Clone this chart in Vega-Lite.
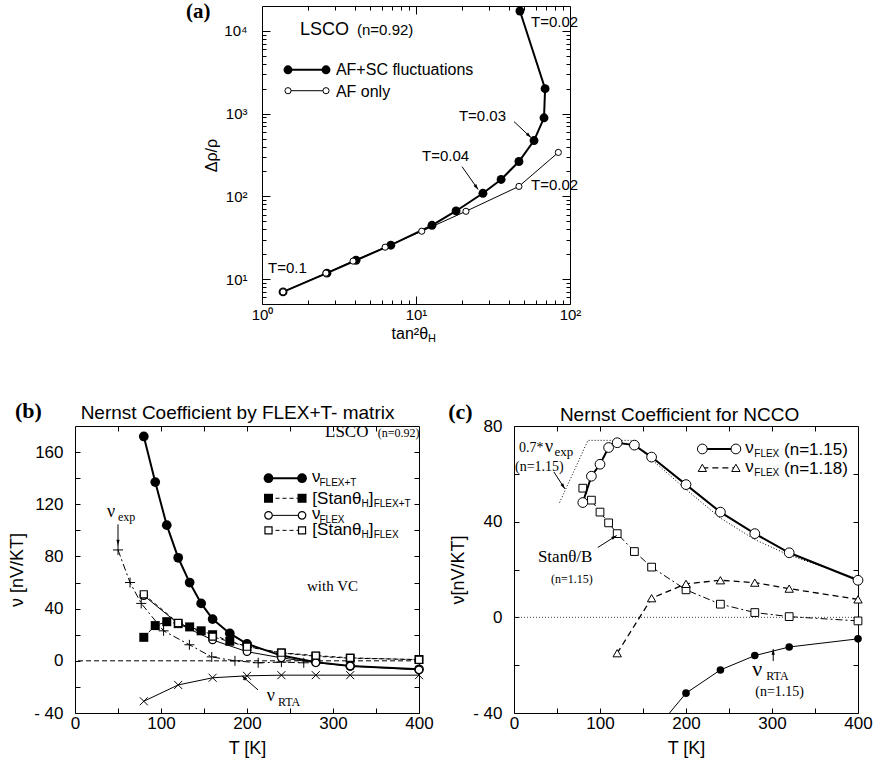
{
  "$schema": "https://vega.github.io/schema/vega-lite/v6.json",
  "background": "white",
  "padding": {"left": 8, "top": 0, "right": 0, "bottom": 0},
  "spacing": 54,
  "config": {
    "font": "Liberation Sans",
    "view": {"stroke": "black", "strokeWidth": 1},
    "axis": {"grid": false, "domain": false, "tickColor": "black", "tickWidth": 1, "labelColor": "black", "titleColor": "black", "labelFont": "Liberation Sans", "titleFont": "Liberation Sans", "labelFontSize": 17, "titleFontSize": 18, "titleFontWeight": "normal", "labelFlush": false, "labelOverlap": false}
  },
  "datasets": {
    "aAfsc": [
      {"i": 0, "tan2": 1.37, "ratio": 7.0},
      {"i": 1, "tan2": 2.64, "ratio": 11.8},
      {"i": 2, "tan2": 4.08, "ratio": 16.9},
      {"i": 3, "tan2": 6.86, "ratio": 25.7},
      {"i": 4, "tan2": 12.7, "ratio": 44.7},
      {"i": 5, "tan2": 18.2, "ratio": 66.6},
      {"i": 6, "tan2": 27.2, "ratio": 109},
      {"i": 7, "tan2": 35.7, "ratio": 160},
      {"i": 8, "tan2": 46.6, "ratio": 264},
      {"i": 9, "tan2": 58.4, "ratio": 473},
      {"i": 10, "tan2": 67.8, "ratio": 891},
      {"i": 11, "tan2": 68.9, "ratio": 2000},
      {"i": 12, "tan2": 47.3, "ratio": 17400}
    ],
    "aAf": [
      {"tan2": 1.37, "ratio": 7.0},
      {"tan2": 2.6, "ratio": 11.8},
      {"tan2": 3.9, "ratio": 16.5},
      {"tan2": 6.3, "ratio": 24.3},
      {"tan2": 10.9, "ratio": 37.9},
      {"tan2": 21.1, "ratio": 66},
      {"tan2": 46.6, "ratio": 132},
      {"tan2": 84, "ratio": 340}
    ],
    "bFlexT": [
      {"T": 80, "v": 172}, {"T": 93.3, "v": 137}, {"T": 106.7, "v": 104}, {"T": 120, "v": 79},
      {"T": 133.3, "v": 60}, {"T": 146.7, "v": 44}, {"T": 160, "v": 32}, {"T": 180, "v": 21},
      {"T": 200, "v": 13}, {"T": 240, "v": 4}, {"T": 280, "v": -1}, {"T": 320, "v": -4}, {"T": 400, "v": -6.5}
    ],
    "bStanT": [
      {"T": 80, "v": 18}, {"T": 93.3, "v": 27}, {"T": 106.7, "v": 30}, {"T": 120, "v": 28.5},
      {"T": 133.3, "v": 26}, {"T": 146.7, "v": 23}, {"T": 160, "v": 20}, {"T": 180, "v": 15},
      {"T": 200, "v": 11}, {"T": 240, "v": 6}, {"T": 280, "v": 3.5}, {"T": 320, "v": 2}, {"T": 400, "v": 1}
    ],
    "bFlex": [
      {"T": 80, "v": 50}, {"T": 120, "v": 28.5}, {"T": 160, "v": 16}, {"T": 200, "v": 7},
      {"T": 240, "v": 2.3}, {"T": 280, "v": -1.5}, {"T": 320, "v": -4}, {"T": 400, "v": -6.9}
    ],
    "bStan": [
      {"T": 80, "v": 51}, {"T": 120, "v": 29}, {"T": 160, "v": 18.5}, {"T": 200, "v": 10.8},
      {"T": 240, "v": 6.2}, {"T": 280, "v": 4}, {"T": 320, "v": 2.3}, {"T": 400, "v": 0.8}
    ],
    "bExp": [
      {"T": 50, "v": 85}, {"T": 64, "v": 60}, {"T": 77, "v": 44}, {"T": 103, "v": 23},
      {"T": 133, "v": 12.3}, {"T": 159, "v": 3}, {"T": 186, "v": 0}, {"T": 213, "v": -1.5},
      {"T": 240, "v": -1}, {"T": 266, "v": -1.5}
    ],
    "bRta": [
      {"T": 80, "v": -31}, {"T": 120, "v": -18.5}, {"T": 160, "v": -13}, {"T": 200, "v": -11.5},
      {"T": 240, "v": -11}, {"T": 280, "v": -11}, {"T": 320, "v": -11}, {"T": 400, "v": -11}
    ],
    "cFlex15": [
      {"T": 80, "v": 48}, {"T": 90, "v": 59}, {"T": 100, "v": 64}, {"T": 110, "v": 71},
      {"T": 120, "v": 73}, {"T": 140, "v": 72}, {"T": 160, "v": 67}, {"T": 200, "v": 55.5},
      {"T": 240, "v": 44}, {"T": 280, "v": 35}, {"T": 320, "v": 27}, {"T": 400, "v": 15.5}
    ],
    "cExp07": [
      {"T": 53, "v": 48}, {"T": 86, "v": 74}, {"T": 136, "v": 74}, {"T": 160, "v": 66},
      {"T": 200, "v": 53.5}, {"T": 240, "v": 41.5}, {"T": 280, "v": 32.5}, {"T": 320, "v": 26},
      {"T": 400, "v": 16}
    ],
    "cFlex18": [
      {"T": 120, "v": -15}, {"T": 160, "v": 8}, {"T": 200, "v": 14}, {"T": 240, "v": 15.5},
      {"T": 280, "v": 14.5}, {"T": 320, "v": 12}, {"T": 400, "v": 7.5}
    ],
    "cStan": [
      {"T": 80, "v": 54}, {"T": 90, "v": 49}, {"T": 100, "v": 44}, {"T": 110, "v": 39.5},
      {"T": 120, "v": 35}, {"T": 140, "v": 27.5}, {"T": 160, "v": 21}, {"T": 200, "v": 11.5},
      {"T": 240, "v": 5.5}, {"T": 280, "v": 2}, {"T": 320, "v": 0.3}, {"T": 400, "v": -1.5}
    ],
    "cRta": [
      {"T": 160, "v": -49}, {"T": 200, "v": -31.7}, {"T": 240, "v": -22}, {"T": 280, "v": -16},
      {"T": 320, "v": -12.4}, {"T": 400, "v": -9}
    ]
  },
  "vconcat": [
    {
      "spacing": 0,
      "hconcat": [
        {
          "width": 110, "height": 10,
          "view": {"stroke": null},
          "data": {"values": [{}]},
          "mark": {"type": "text", "text": ""},
          "encoding": {}
        },
        {
          "width": 308, "height": 298,
          "resolve": {"axis": {"x": "independent", "y": "independent"}},
          "layer": [
            {
              "data": {"values": [{"tan2": 1, "ratio": 10}]},
              "mark": {"type": "point", "opacity": 0},
              "encoding": {
                "x": {"field": "tan2", "type": "quantitative",
                  "scale": {"type": "log", "domain": [1, 100], "nice": false},
                  "axis": {"orient": "bottom", "values": [1,2,3,4,5,6,7,8,9,10,20,30,40,50,60,70,80,90,100],
                    "labelExpr": "datum.value === 1 ? '10⁰' : datum.value === 10 ? '10¹' : datum.value === 100 ? '10²' : ''",
                    "tickSize": {"condition": {"test": "indexof([1,10,100], datum.value) >= 0", "value": -8}, "value": -4},
                    "labelPadding": 11, "labelFontSize": 15, "title": null}},
                "y": {"field": "ratio", "type": "quantitative",
                  "scale": {"type": "log", "domain": [5, 20000], "nice": false},
                  "axis": {"orient": "left", "values": [6,7,8,9,10,20,30,40,50,60,70,80,90,100,200,300,400,500,600,700,800,900,1000,2000,3000,4000,5000,6000,7000,8000,9000,10000],
                    "labelExpr": "datum.value === 10 ? '10¹' : datum.value === 100 ? '10²' : datum.value === 1000 ? '10³' : datum.value === 10000 ? '10⁴' : ''",
                    "tickSize": {"condition": {"test": "indexof([10,100,1000,10000], datum.value) >= 0", "value": -8}, "value": -4},
                    "labelPadding": 23, "labelFontSize": 15, "title": "Δρ/ρ", "titleFontSize": 16, "titlePadding": 4}}
              }
            },
            {
              "data": {"values": [{"tan2": 1, "ratio": 10}]},
              "mark": {"type": "point", "opacity": 0},
              "encoding": {
                "x": {"field": "tan2", "type": "quantitative",
                  "scale": {"type": "log", "domain": [1, 100], "nice": false},
                  "axis": {"orient": "top", "values": [2,3,4,5,6,7,8,9,10,20,30,40,50,60,70,80,90], "labels": false,
                    "tickSize": {"condition": {"test": "datum.value === 10", "value": -8}, "value": -4},
                    "title": null}},
                "y": {"field": "ratio", "type": "quantitative",
                  "scale": {"type": "log", "domain": [5, 20000], "nice": false},
                  "axis": {"orient": "right", "values": [6,7,8,9,10,20,30,40,50,60,70,80,90,100,200,300,400,500,600,700,800,900,1000,2000,3000,4000,5000,6000,7000,8000,9000,10000], "labels": false,
                    "tickSize": {"condition": {"test": "indexof([10,100,1000,10000], datum.value) >= 0", "value": -8}, "value": -4},
                    "title": null}}
              }
            },
            {
              "encoding": {
                "x": {"field": "tan2", "type": "quantitative", "scale": {"type": "log", "domain": [1, 100], "nice": false}, "axis": null},
                "y": {"field": "ratio", "type": "quantitative", "scale": {"type": "log", "domain": [5, 20000], "nice": false}, "axis": null}
              },
              "layer": [
                {
                  "data": {"name": "aAfsc"},
                  "mark": {"type": "line", "color": "black", "strokeWidth": 2, "point": {"filled": true, "color": "black", "size": 79}},
                  "encoding": {"order": {"field": "i", "type": "quantitative"}}
                },
                {
                  "data": {"name": "aAf"},
                  "mark": {"type": "line", "color": "black", "strokeWidth": 1, "point": {"filled": true, "fill": "white", "stroke": "black", "strokeWidth": 1, "size": 38}}
                },
                {
                  "data": {"values": [{"tan2": 1.475, "ratio": 3390}, {"tan2": 2.604, "ratio": 3390}]},
                  "mark": {"type": "line", "color": "black", "strokeWidth": 2, "point": {"filled": true, "color": "black", "size": 79}}
                },
                {
                  "data": {"values": [{"tan2": 1.475, "ratio": 1893}, {"tan2": 2.604, "ratio": 1893}]},
                  "mark": {"type": "line", "color": "black", "strokeWidth": 1, "point": {"filled": true, "fill": "white", "stroke": "black", "strokeWidth": 1, "size": 38}}
                },
                {
                  "data": {"values": [
                    {"tan2": 3.02, "ratio": 2892, "label": "AF+SC fluctuations"},
                    {"tan2": 3.02, "ratio": 1603, "label": "AF only"}
                  ]},
                  "mark": {"type": "text", "align": "left", "baseline": "alphabetic", "fontSize": 16, "color": "black"},
                  "encoding": {"text": {"field": "label"}}
                },
                {
                  "data": {"values": [{"tan2": 1.765, "ratio": 8830, "label": "LSCO"}]},
                  "mark": {"type": "text", "align": "left", "baseline": "alphabetic", "fontSize": 18, "color": "black"},
                  "encoding": {"text": {"field": "label"}}
                },
                {
                  "data": {"values": [
                    {"tan2": 4.14, "ratio": 8830, "label": "(n=0.92)"},
                    {"tan2": 1.094, "ratio": 11.8, "label": "T=0.1"},
                    {"tan2": 10.94, "ratio": 264, "label": "T=0.04"},
                    {"tan2": 19.0, "ratio": 824, "label": "T=0.03"},
                    {"tan2": 55.8, "ratio": 11020, "label": "T=0.02"},
                    {"tan2": 55.8, "ratio": 118, "label": "T=0.02"}
                  ]},
                  "mark": {"type": "text", "align": "left", "baseline": "alphabetic", "fontSize": 15, "color": "black"},
                  "encoding": {"text": {"field": "label"}}
                },
                {
                  "data": {"values": [{"tan2": 0.321, "ratio": 14350, "label": "(a)"}]},
                  "mark": {"type": "text", "align": "left", "baseline": "alphabetic", "font": "Liberation Serif", "fontWeight": "bold", "fontSize": 21, "color": "black"},
                  "encoding": {"text": {"field": "label"}}
                },
                {
                  "data": {"values": [{"tan2": 11.97, "ratio": 1.89, "label": "tan²θ"}]},
                  "mark": {"type": "text", "align": "right", "baseline": "alphabetic", "fontSize": 16, "color": "black"},
                  "encoding": {"text": {"field": "label"}}
                },
                {
                  "data": {"values": [{"tan2": 11.97, "ratio": 1.74, "label": "H"}]},
                  "mark": {"type": "text", "align": "left", "baseline": "alphabetic", "fontSize": 11, "color": "black"},
                  "encoding": {"text": {"field": "label"}}
                },
                {
                  "data": {"values": [
                    {"tan2": 19.9, "ratio": 229, "tan2b": 25.3, "ratio2": 121},
                    {"tan2": 43.3, "ratio": 801, "tan2b": 55.8, "ratio2": 514}
                  ]},
                  "mark": {"type": "rule", "color": "black", "strokeWidth": 1},
                  "encoding": {"x2": {"field": "tan2b"}, "y2": {"field": "ratio2"}}
                },
                {
                  "data": {"values": [{"tan2": 25.3, "ratio": 121}]},
                  "mark": {"type": "point", "shape": "M0,0L-0.3,1L0.3,1Z", "filled": true, "color": "black", "opacity": 1, "size": 121, "angle": 145}
                },
                {
                  "data": {"values": [{"tan2": 55.8, "ratio": 514}]},
                  "mark": {"type": "point", "shape": "M0,0L-0.3,1L0.3,1Z", "filled": true, "color": "black", "opacity": 1, "size": 121, "angle": 133}
                }
              ]
            }
          ]
        }
      ]
    },
    {
      "spacing": 13,
      "hconcat": [
        {
          "width": 344, "height": 287,
          "resolve": {"axis": {"x": "independent", "y": "independent"}},
          "layer": [
            {
              "data": {"values": [{"T": 0, "v": 0}]},
              "mark": {"type": "point", "opacity": 0},
              "encoding": {
                "x": {"field": "T", "type": "quantitative", "scale": {"domain": [0, 400], "nice": false, "zero": false},
                  "axis": {"orient": "bottom", "values": [0,50,100,150,200,250,300,350,400],
                    "labelExpr": "datum.value % 100 === 0 ? datum.label : ''",
                    "tickSize": -5, "labelPadding": 7, "title": "T [K]", "titlePadding": 8}},
                "y": {"field": "v", "type": "quantitative", "scale": {"domain": [-40, 180], "nice": false, "zero": false},
                  "axis": {"orient": "left", "values": [-40,-20,0,20,40,60,80,100,120,140,160],
                    "labelExpr": "datum.value % 40 === 0 ? (datum.value < 0 ? '- ' + abs(datum.value) : datum.label) : ''",
                    "tickSize": -5, "labelPadding": 17, "title": "ν [nV/KT]", "titlePadding": 7}}
              }
            },
            {
              "data": {"values": [{"T": 0, "v": 0}]},
              "mark": {"type": "point", "opacity": 0},
              "encoding": {
                "x": {"field": "T", "type": "quantitative", "scale": {"domain": [0, 400], "nice": false, "zero": false},
                  "axis": {"orient": "top", "values": [50,100,150,200,250,300,350], "labels": false, "tickSize": -5, "title": null}},
                "y": {"field": "v", "type": "quantitative", "scale": {"domain": [-40, 180], "nice": false, "zero": false},
                  "axis": {"orient": "right", "values": [-20,0,20,40,60,80,100,120,140,160], "labels": false, "tickSize": -5, "title": null}}
              }
            },
            {
              "data": {"values": [{"zero": 0}]},
              "mark": {"type": "rule", "color": "black", "strokeWidth": 1, "strokeDash": [5, 3]},
              "encoding": {"y": {"datum": 0, "type": "quantitative", "scale": {"domain": [-40, 180], "nice": false, "zero": false}, "axis": null}}
            },
            {
              "encoding": {
                "x": {"field": "T", "type": "quantitative", "scale": {"domain": [0, 400], "nice": false, "zero": false}, "axis": null},
                "y": {"field": "v", "type": "quantitative", "scale": {"domain": [-40, 180], "nice": false, "zero": false}, "axis": null}
              },
              "layer": [
                {
                  "data": {"name": "bExp"},
                  "mark": {"type": "line", "color": "black", "strokeWidth": 1, "strokeDash": [7, 3, 2, 3], "point": {"shape": "M-1,0L1,0M0,-1L0,1", "filled": false, "color": "black", "strokeWidth": 1, "size": 100}}
                },
                {
                  "data": {"name": "bRta"},
                  "mark": {"type": "line", "color": "black", "strokeWidth": 1, "point": {"shape": "M-1,-1L1,1M-1,1L1,-1", "filled": false, "color": "black", "strokeWidth": 1, "size": 64}}
                },
                {
                  "data": {"name": "bStanT"},
                  "mark": {"type": "line", "color": "black", "strokeWidth": 1, "strokeDash": [4, 3], "point": {"shape": "square", "filled": true, "color": "black", "size": 81}}
                },
                {
                  "data": {"name": "bFlexT"},
                  "mark": {"type": "line", "color": "black", "strokeWidth": 2, "point": {"filled": true, "color": "black", "size": 95}}
                },
                {
                  "data": {"name": "bFlex"},
                  "mark": {"type": "line", "color": "black", "strokeWidth": 1, "point": {"filled": true, "fill": "white", "stroke": "black", "strokeWidth": 1.2, "size": 57}}
                },
                {
                  "data": {"name": "bStan"},
                  "mark": {"type": "line", "color": "black", "strokeWidth": 1, "strokeDash": [4, 3], "point": {"shape": "square", "filled": true, "fill": "white", "stroke": "black", "strokeWidth": 1.2, "size": 50}}
                },
                {
                  "data": {"values": [{"T": 225, "v": 140}, {"T": 264, "v": 140}]},
                  "mark": {"type": "line", "color": "black", "strokeWidth": 2, "point": {"filled": true, "color": "black", "size": 95}}
                },
                {
                  "data": {"values": [{"T": 225, "v": 124.6}, {"T": 264, "v": 124.6}]},
                  "mark": {"type": "line", "color": "black", "strokeWidth": 1, "strokeDash": [4, 3], "point": {"shape": "square", "filled": true, "color": "black", "size": 81}}
                },
                {
                  "data": {"values": [{"T": 225, "v": 111.5}, {"T": 264, "v": 111.5}]},
                  "mark": {"type": "line", "color": "black", "strokeWidth": 1, "point": {"filled": true, "fill": "white", "stroke": "black", "strokeWidth": 1.2, "size": 57}}
                },
                {
                  "data": {"values": [{"T": 225, "v": 100}, {"T": 264, "v": 100}]},
                  "mark": {"type": "line", "color": "black", "strokeWidth": 1, "strokeDash": [4, 3], "point": {"shape": "square", "filled": true, "fill": "white", "stroke": "black", "strokeWidth": 1.2, "size": 50}}
                },
                {
                  "data": {"values": [
                    {"T": 275.6, "v": 136.9, "label": "ν"},
                    {"T": 276, "v": 120, "label": "[Stanθ"},
                    {"T": 341.5, "v": 120, "label": "]"},
                    {"T": 275.6, "v": 108.5, "label": "ν"},
                    {"T": 276, "v": 96.2, "label": "[Stanθ"},
                    {"T": 341.5, "v": 96.2, "label": "]"}
                  ]},
                  "mark": {"type": "text", "align": "left", "baseline": "alphabetic", "fontSize": 17, "color": "black"},
                  "encoding": {"text": {"field": "label"}}
                },
                {
                  "data": {"values": [
                    {"T": 284.3, "v": 133.8, "label": "FLEX+T"},
                    {"T": 333.1, "v": 117.7, "label": "H"},
                    {"T": 347.3, "v": 117.7, "label": "FLEX+T"},
                    {"T": 284.3, "v": 105.4, "label": "FLEX"},
                    {"T": 333.1, "v": 93.8, "label": "H"},
                    {"T": 347.3, "v": 93.8, "label": "FLEX"}
                  ]},
                  "mark": {"type": "text", "align": "left", "baseline": "alphabetic", "fontSize": 10, "color": "black"},
                  "encoding": {"text": {"field": "label"}}
                },
                {
                  "data": {"values": [{"T": 189, "v": 185.4, "label": "Nernst Coefficient by FLEX+T- matrix"}]},
                  "mark": {"type": "text", "align": "center", "baseline": "alphabetic", "fontSize": 19, "color": "black"},
                  "encoding": {"text": {"field": "label"}}
                },
                {
                  "data": {"values": [{"T": -69.8, "v": 186.2, "label": "(b)"}]},
                  "mark": {"type": "text", "align": "left", "baseline": "alphabetic", "font": "Liberation Serif", "fontWeight": "bold", "fontSize": 22, "color": "black"},
                  "encoding": {"text": {"field": "label"}}
                },
                {
                  "data": {"values": [{"T": 290.7, "v": 171.6, "label": "LSCO"}]},
                  "mark": {"type": "text", "align": "left", "baseline": "alphabetic", "font": "Liberation Serif", "fontSize": 17, "color": "black"},
                  "encoding": {"text": {"field": "label"}}
                },
                {
                  "data": {"values": [{"T": 352, "v": 171.6, "label": "(n=0.92)"}]},
                  "mark": {"type": "text", "align": "left", "baseline": "alphabetic", "font": "Liberation Serif", "fontSize": 12, "color": "black"},
                  "encoding": {"text": {"field": "label"}}
                },
                {
                  "data": {"values": [{"T": 269.8, "v": 53.8, "label": "with VC"}]},
                  "mark": {"type": "text", "align": "left", "baseline": "alphabetic", "font": "Liberation Serif", "fontSize": 15, "color": "black"},
                  "encoding": {"text": {"field": "label"}}
                },
                {
                  "data": {"values": [
                    {"T": 37.2, "v": 110, "label": "ν"},
                    {"T": 223, "v": -30.8, "label": "ν"}
                  ]},
                  "mark": {"type": "text", "align": "left", "baseline": "alphabetic", "font": "Liberation Serif", "fontSize": 18, "color": "black"},
                  "encoding": {"text": {"field": "label"}}
                },
                {
                  "data": {"values": [
                    {"T": 50, "v": 106.9, "label": "exp"},
                    {"T": 236, "v": -34.6, "label": "RTA"}
                  ]},
                  "mark": {"type": "text", "align": "left", "baseline": "alphabetic", "font": "Liberation Serif", "fontSize": 12, "color": "black"},
                  "encoding": {"text": {"field": "label"}}
                },
                {
                  "data": {"values": [
                    {"T": 50, "v": 104.6, "T2": 50, "v2": 88.5},
                    {"T": 212.8, "v": -22.3, "T2": 194, "v2": -11.5}
                  ]},
                  "mark": {"type": "rule", "color": "black", "strokeWidth": 1},
                  "encoding": {"x2": {"field": "T2"}, "y2": {"field": "v2"}}
                },
                {
                  "data": {"values": [{"T": 50, "v": 88.5}]},
                  "mark": {"type": "point", "shape": "M0,0L-0.3,1L0.3,1Z", "filled": true, "color": "black", "opacity": 1, "size": 121, "angle": 180}
                },
                {
                  "data": {"values": [{"T": 194, "v": -11.5}]},
                  "mark": {"type": "point", "shape": "M0,0L-0.3,1L0.3,1Z", "filled": true, "color": "black", "opacity": 1, "size": 121, "angle": 311}
                }
              ]
            }
          ]
        },
        {
          "width": 344, "height": 287,
          "resolve": {"axis": {"x": "independent", "y": "independent"}},
          "layer": [
            {
              "data": {"values": [{"T": 0, "v": 0}]},
              "mark": {"type": "point", "opacity": 0},
              "encoding": {
                "x": {"field": "T", "type": "quantitative", "scale": {"domain": [0, 400], "nice": false, "zero": false},
                  "axis": {"orient": "bottom", "values": [0,50,100,150,200,250,300,350,400],
                    "labelExpr": "datum.value % 100 === 0 ? datum.label : ''",
                    "tickSize": -5, "labelPadding": 7, "title": "T [K]", "titlePadding": 8}},
                "y": {"field": "v", "type": "quantitative", "scale": {"domain": [-40, 80], "nice": false, "zero": false},
                  "axis": {"orient": "left", "values": [-40,-20,0,20,40,60,80],
                    "labelExpr": "datum.value % 40 === 0 ? (datum.value < 0 ? '- ' + abs(datum.value) : datum.label) : ''",
                    "tickSize": -5, "labelPadding": 17, "title": "ν[nV/KT]", "titlePadding": 5}}
              }
            },
            {
              "data": {"values": [{"T": 0, "v": 0}]},
              "mark": {"type": "point", "opacity": 0},
              "encoding": {
                "x": {"field": "T", "type": "quantitative", "scale": {"domain": [0, 400], "nice": false, "zero": false},
                  "axis": {"orient": "top", "values": [50,100,150,200,250,300,350], "labels": false, "tickSize": -5, "title": null}},
                "y": {"field": "v", "type": "quantitative", "scale": {"domain": [-40, 80], "nice": false, "zero": false},
                  "axis": {"orient": "right", "values": [-20,0,20,40,60], "labels": false, "tickSize": -5, "title": null}}
              }
            },
            {
              "data": {"values": [{"zero": 0}]},
              "mark": {"type": "rule", "color": "#444444", "strokeWidth": 1, "strokeDash": [1, 2]},
              "encoding": {"y": {"datum": 0, "type": "quantitative", "scale": {"domain": [-40, 80], "nice": false, "zero": false}, "axis": null}}
            },
            {
              "encoding": {
                "x": {"field": "T", "type": "quantitative", "scale": {"domain": [0, 400], "nice": false, "zero": false}, "axis": null},
                "y": {"field": "v", "type": "quantitative", "scale": {"domain": [-40, 80], "nice": false, "zero": false}, "axis": null}
              },
              "layer": [
                {
                  "data": {"name": "cExp07"},
                  "mark": {"type": "line", "color": "black", "strokeWidth": 1, "strokeDash": [1, 2]}
                },
                {
                  "data": {"name": "cRta"},
                  "mark": {"type": "line", "color": "black", "strokeWidth": 1, "clip": true}
                },
                {
                  "data": {"name": "cRta"},
                  "transform": [{"filter": "datum.T >= 200"}],
                  "mark": {"type": "point", "filled": true, "color": "black", "opacity": 1, "size": 57}
                },
                {
                  "data": {"name": "cStan"},
                  "mark": {"type": "line", "color": "black", "strokeWidth": 1, "strokeDash": [7, 3, 2, 3], "point": {"shape": "square", "filled": true, "fill": "white", "stroke": "black", "strokeWidth": 1, "size": 60}}
                },
                {
                  "data": {"name": "cFlex18"},
                  "mark": {"type": "line", "color": "black", "strokeWidth": 1.3, "strokeDash": [6, 4], "point": {"shape": "triangle-up", "filled": true, "fill": "white", "stroke": "black", "strokeWidth": 1, "size": 70}}
                },
                {
                  "data": {"name": "cFlex15"},
                  "mark": {"type": "line", "color": "black", "strokeWidth": 2, "point": {"filled": true, "fill": "white", "stroke": "black", "strokeWidth": 1, "size": 95}}
                },
                {
                  "data": {"values": [{"T": 219, "v": 70.4}, {"T": 258, "v": 70.4}]},
                  "mark": {"type": "line", "color": "black", "strokeWidth": 2, "point": {"filled": true, "fill": "white", "stroke": "black", "strokeWidth": 1, "size": 95}}
                },
                {
                  "data": {"values": [{"T": 219, "v": 62.5}, {"T": 258, "v": 62.5}]},
                  "mark": {"type": "line", "color": "black", "strokeWidth": 1.3, "strokeDash": [6, 4], "point": {"shape": "triangle-up", "filled": true, "fill": "white", "stroke": "black", "strokeWidth": 1, "size": 70}}
                },
                {
                  "data": {"values": [
                    {"T": 269, "v": 68.75, "label": "ν"},
                    {"T": 314, "v": 67.9, "label": "(n=1.15)"},
                    {"T": 269, "v": 60.8, "label": "ν"},
                    {"T": 314, "v": 60.0, "label": "(n=1.18)"}
                  ]},
                  "mark": {"type": "text", "align": "left", "baseline": "alphabetic", "fontSize": 17, "color": "black"},
                  "encoding": {"text": {"field": "label"}}
                },
                {
                  "data": {"values": [
                    {"T": 279.4, "v": 67.1, "label": "FLEX"},
                    {"T": 279.4, "v": 59.2, "label": "FLEX"}
                  ]},
                  "mark": {"type": "text", "align": "left", "baseline": "alphabetic", "fontSize": 10, "color": "black"},
                  "encoding": {"text": {"field": "label"}}
                },
                {
                  "data": {"values": [{"T": 192.5, "v": 82.1, "label": "Nernst Coefficient for NCCO"}]},
                  "mark": {"type": "text", "align": "center", "baseline": "alphabetic", "fontSize": 19, "color": "black"},
                  "encoding": {"text": {"field": "label"}}
                },
                {
                  "data": {"values": [{"T": -76.5, "v": 82.9, "label": "(c)"}]},
                  "mark": {"type": "text", "align": "left", "baseline": "alphabetic", "font": "Liberation Serif", "fontWeight": "bold", "fontSize": 22, "color": "black"},
                  "encoding": {"text": {"field": "label"}}
                },
                {
                  "data": {"values": [
                    {"T": 5.8, "v": 69.2, "label": "0.7*"},
                    {"T": 1.2, "v": 61.25, "label": "(n=1.15)"},
                    {"T": 280.6, "v": -32.9, "label": "(n=1.15)"}
                  ]},
                  "mark": {"type": "text", "align": "left", "baseline": "alphabetic", "font": "Liberation Serif", "fontSize": 14, "color": "black"},
                  "encoding": {"text": {"field": "label"}}
                },
                {
                  "data": {"values": [{"T": 36, "v": 69.2, "label": "ν"}]},
                  "mark": {"type": "text", "align": "left", "baseline": "alphabetic", "font": "Liberation Serif", "fontSize": 18, "color": "black"},
                  "encoding": {"text": {"field": "label"}}
                },
                {
                  "data": {"values": [{"T": 47, "v": 67.5, "label": "exp"}]},
                  "mark": {"type": "text", "align": "left", "baseline": "alphabetic", "font": "Liberation Serif", "fontSize": 13, "color": "black"},
                  "encoding": {"text": {"field": "label"}}
                },
                {
                  "data": {"values": [{"T": 27.8, "v": 23.3, "label": "Stanθ/B"}]},
                  "mark": {"type": "text", "align": "left", "baseline": "alphabetic", "font": "Liberation Serif", "fontSize": 17, "color": "black"},
                  "encoding": {"text": {"field": "label"}}
                },
                {
                  "data": {"values": [{"T": 42.9, "v": 14.2, "label": "(n=1.15)"}]},
                  "mark": {"type": "text", "align": "left", "baseline": "alphabetic", "font": "Liberation Serif", "fontSize": 12, "color": "black"},
                  "encoding": {"text": {"field": "label"}}
                },
                {
                  "data": {"values": [{"T": 277, "v": -24.6, "label": "ν"}]},
                  "mark": {"type": "text", "align": "left", "baseline": "alphabetic", "font": "Liberation Serif", "fontSize": 22, "color": "black"},
                  "encoding": {"text": {"field": "label"}}
                },
                {
                  "data": {"values": [{"T": 293.3, "v": -26.25, "label": "RTA"}]},
                  "mark": {"type": "text", "align": "left", "baseline": "alphabetic", "font": "Liberation Serif", "fontSize": 12, "color": "black"},
                  "encoding": {"text": {"field": "label"}}
                },
                {
                  "data": {"values": [
                    {"T": 46.4, "v": 60.8, "T2": 59.1, "v2": 53.75},
                    {"T": 97.4, "v": 29.2, "T2": 119.4, "v2": 34.2},
                    {"T": 301.4, "v": -18.3, "T2": 301.4, "v2": -13.3}
                  ]},
                  "mark": {"type": "rule", "color": "black", "strokeWidth": 1},
                  "encoding": {"x2": {"field": "T2"}, "y2": {"field": "v2"}}
                },
                {
                  "data": {"values": [{"T": 59.1, "v": 53.75}]},
                  "mark": {"type": "point", "shape": "M0,0L-0.3,1L0.3,1Z", "filled": true, "color": "black", "opacity": 1, "size": 121, "angle": 147}
                },
                {
                  "data": {"values": [{"T": 119.4, "v": 34.2}]},
                  "mark": {"type": "point", "shape": "M0,0L-0.3,1L0.3,1Z", "filled": true, "color": "black", "opacity": 1, "size": 121, "angle": 58}
                },
                {
                  "data": {"values": [{"T": 301.4, "v": -13.3}]},
                  "mark": {"type": "point", "shape": "M0,0L-0.3,1L0.3,1Z", "filled": true, "color": "black", "opacity": 1, "size": 121, "angle": 0}
                }
              ]
            }
          ]
        }
      ]
    }
  ]
}
